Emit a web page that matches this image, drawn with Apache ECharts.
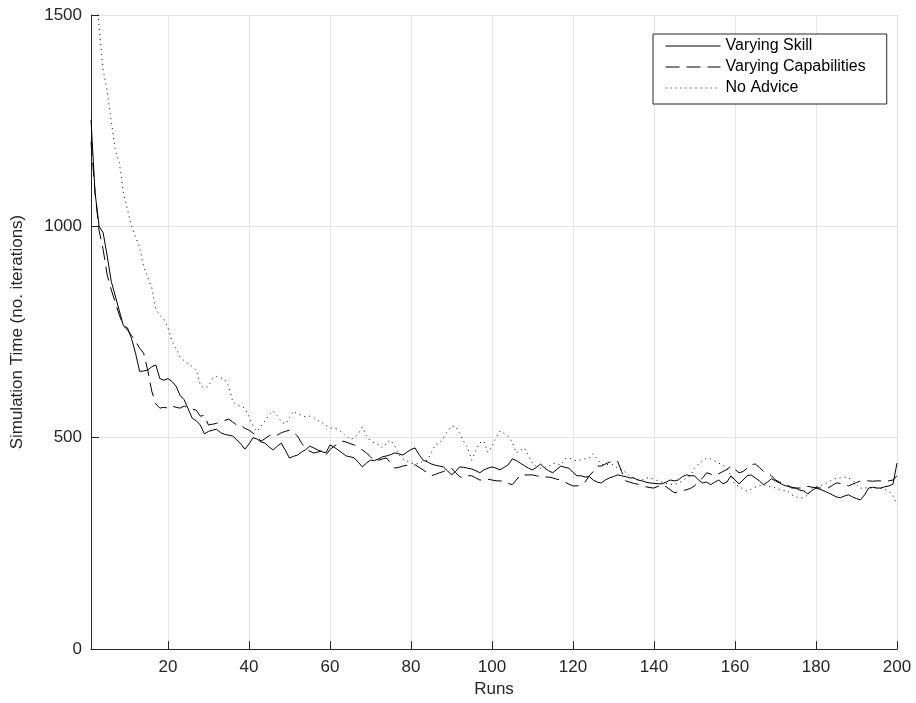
<!DOCTYPE html>
<html>
<head>
<meta charset="utf-8">
<script src="https://cdn.jsdelivr.net/npm/echarts@6/dist/echarts.min.js"></script>
<style>html,body{margin:0;padding:0;background:#fff;}#c{width:916px;height:703px;}</style>
</head>
<body>
<div id="c"></div>
<script>
const seriesNames = ['Varying Skill', 'Varying Capabilities', 'No Advice'];
const xTicks = [20, 40, 60, 80, 100, 120, 140, 160, 180, 200];
const yTicks = [0, 500, 1000, 1500];

const varyingSkill = [
  1252,1080,1000,985,930,870,835,800,765,760,
  735,700,657,658,660,668,672,640,636,640,
  633,622,600,590,568,546,540,530,509,515,
  518,520,512,508,506,504,495,485,473,485,
  500,497,490,487,478,471,480,487,470,452,
  456,459,466,472,480,476,471,467,464,483,
  478,471,464,457,455,452,442,431,440,447,
  446,450,455,457,460,464,462,459,466,472,
  476,460,447,443,438,435,433,431,422,412,
  420,431,430,428,426,422,417,424,428,431,
  428,424,430,436,450,446,440,434,428,424,
  430,438,428,422,417,425,433,430,428,418,
  410,410,407,408,400,395,393,400,405,408,
  412,410,408,405,405,400,398,395,393,392,
  391,391,395,400,398,400,408,412,410,410,
  400,393,395,389,395,400,391,395,410,400,
  391,400,410,412,405,398,389,395,403,398,
  393,388,385,383,381,376,374,367,375,381,
  378,374,370,365,360,358,362,365,360,356,
  353,365,381,383,381,381,384,386,390,440
];
const varyingCapabilities = [
  1200,1080,990,945,885,850,820,790,765,755,
  742,728,712,700,660,610,580,570,572,570,
  575,572,570,575,570,568,565,551,553,530,
  532,534,538,541,544,537,530,530,522,518,
  511,502,492,498,505,510,506,512,515,518,
  512,504,487,475,468,464,466,469,459,472,
  480,486,492,490,486,483,477,471,464,455,
  445,447,450,452,440,428,430,433,435,436,
  436,430,424,417,410,413,417,420,425,428,
  418,408,405,410,410,405,400,400,402,400,
  398,398,396,392,389,400,412,412,412,412,
  410,408,407,407,405,402,400,395,390,386,
  386,389,395,410,420,433,433,438,442,445,
  445,420,398,395,392,390,386,384,382,381,
  385,389,384,377,370,372,375,377,380,386,
  395,405,417,414,410,415,420,425,433,425,
  417,420,428,436,438,430,421,418,410,400,
  395,393,388,381,381,381,381,385,383,382,
  381,381,381,387,393,392,390,386,390,394,
  398,398,398,397,398,398,398,398,400,410
];
const noAdvice = [
  1750,1620,1470,1370,1320,1250,1180,1150,1080,1040,
  1000,975,950,905,880,855,805,790,780,760,
  728,712,690,682,675,668,660,625,617,622,
  640,645,642,638,622,585,578,574,570,550,
  528,515,528,540,555,563,552,538,532,548,
  563,556,553,549,551,548,541,536,530,523,
  523,520,512,504,496,500,510,525,505,492,
  488,483,476,488,494,480,460,450,445,440,
  437,440,444,447,464,483,487,499,516,527,
  527,511,492,476,447,470,488,492,465,480,
  500,516,510,503,490,464,470,476,458,440,
  432,428,430,433,440,438,436,450,452,448,
  445,448,450,452,462,450,436,436,437,436,
  428,425,418,410,405,402,400,405,405,402,
  398,395,392,390,389,392,398,405,410,428,
  438,445,452,450,445,440,435,428,410,389,
  385,378,374,378,383,386,389,386,384,381,
  378,375,374,365,360,358,358,365,381,384,
  386,390,395,400,404,405,407,405,400,390,
  381,381,382,381,381,380,378,374,363,341
];

const toPairs = arr => arr.map((v, i) => [i + 1, v]);
const styles = ['solid', [14, 7], [1, 4]];
const allData = [varyingSkill, varyingCapabilities, noAdvice];

const textColor = '#262626';
const chart = echarts.init(document.getElementById('c'), null, {renderer: 'canvas'});
chart.setOption({
  animation: false,
  backgroundColor: '#fff',
  textStyle: {fontFamily: 'Liberation Sans, Arial, sans-serif'},
  grid: {left: 91, right: 19, top: 15, bottom: 51, containLabel: false},
  legend: {
    orient: 'vertical',
    left: 653, top: 34,
    padding: [4, 21, 8, 12],
    itemWidth: 55, itemHeight: 14, itemGap: 5,
    backgroundColor: '#fff',
    borderColor: '#262626', borderWidth: 1, borderRadius: 0,
    itemStyle: {color: 'rgba(0,0,0,0)', borderWidth: 0, opacity: 0},
    lineStyle: {width: 1, color: '#000'},
    textStyle: {color: '#000', fontSize: 16, fontFamily: 'Liberation Sans, Arial, sans-serif'},
    data: seriesNames
  },
  xAxis: {
    type: 'value', min: 1, max: 200,
    name: 'Runs', nameLocation: 'middle', nameGap: 30,
    nameTextStyle: {color: textColor, fontSize: 17},
    axisLine: {show: true, onZero: false, lineStyle: {color: textColor, width: 1}},
    axisTick: {show: true, inside: true, length: 8, customValues: xTicks, lineStyle: {color: textColor}},
    axisLabel: {color: textColor, fontSize: 17, margin: 10, customValues: xTicks},
    splitLine: {show: true, lineStyle: {color: '#e3e3e3', width: 1}}
  },
  yAxis: {
    type: 'value', min: 0, max: 1500, interval: 500,
    name: 'Simulation Time (no. iterations)', nameLocation: 'middle', nameGap: 65, nameRotate: 90,
    nameTextStyle: {color: textColor, fontSize: 17},
    axisLine: {show: true, onZero: false, lineStyle: {color: textColor, width: 1}},
    axisTick: {show: true, inside: true, length: 8, lineStyle: {color: textColor}},
    axisLabel: {color: textColor, fontSize: 17, margin: 9, customValues: yTicks, formatter: v => String(v)},
    splitLine: {show: true, lineStyle: {color: '#e3e3e3', width: 1}}
  },
  series: allData.map((arr, k) => ({
    name: seriesNames[k],
    type: 'line',
    data: toPairs(arr),
    showSymbol: false,
    symbol: 'none',
    clip: true,
    lineStyle: {color: '#000', width: 1, type: styles[k]},
    itemStyle: {color: '#000'},
    emphasis: {disabled: true}
  }))
});
</script>
</body>
</html>
